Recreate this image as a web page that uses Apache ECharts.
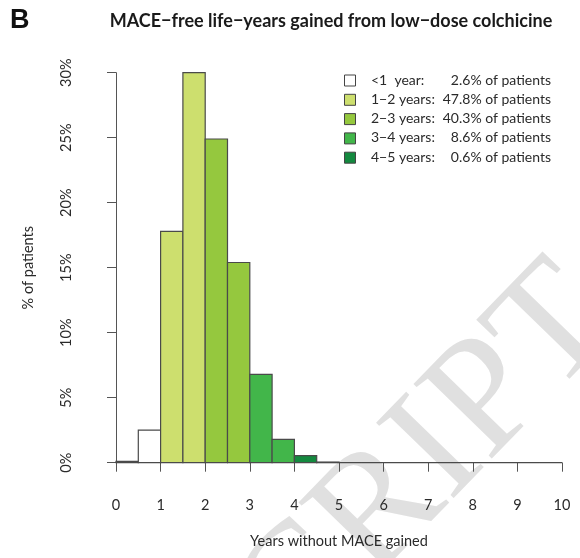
<!DOCTYPE html>
<html>
<head>
<meta charset="utf-8">
<script src="https://cdn.jsdelivr.net/npm/echarts@6/dist/echarts.min.js"></script>
<style>
  html, body { margin: 0; padding: 0; background: #fff; }
  #chart { width: 580px; height: 558px; }
</style>
</head>
<body>
<div id="chart"></div>
<script>
// Histogram bins (years gained, width 0.5) and share of patients in each bin (%)
const binStarts = [0, 0.5, 1, 1.5, 2, 2.5, 3, 3.5, 4, 4.5, 5, 5.5, 6, 6.5, 7, 7.5, 8, 8.5, 9, 9.5];
const binPct    = [0.1, 2.5, 17.8, 30.0, 24.9, 15.4, 6.8, 1.8, 0.55, 0.05, 0, 0, 0, 0, 0, 0, 0, 0, 0, 0];
const binWidth = 0.5;

// Colour groups by whole years
const groupLabels = ['<1  year:', '1\u22122 years:', '2\u22123 years:', '3\u22124 years:', '4\u22125 years:'];
const groupPct    = ['2.6%', '47.8%', '40.3%', '8.6%', '0.6%'];
const groupColors = ['#ffffff', '#cddf6e', '#95c83e', '#42b64a', '#14893f'];

const xTicks = [0, 1, 2, 3, 4, 5, 6, 7, 8, 9, 10];
const yTicks = [0, 5, 10, 15, 20, 25, 30];

const FONT = 'Lato, "Open Sans", sans-serif';
const TXT = '#2a2a2a';

function binColor(start, value) {
  if (value < 0.3) return '#ffffff';
  const g = Math.floor(start);
  return g < groupColors.length ? groupColors[g] : '#ffffff';
}

const chart = echarts.init(document.getElementById('chart'), null, { renderer: 'canvas' });

// Legend drawn as boxes + text
const legendGraphics = [];
const lx = 344, ly0 = 80, lstep = 19.3;
groupLabels.forEach((lab, i) => {
  const y = ly0 + i * lstep;
  legendGraphics.push({
    type: 'rect', left: lx, top: y - 5.5,
    shape: { width: 11, height: 11 },
    style: { fill: groupColors[i], stroke: '#444', lineWidth: 1 }
  });
  legendGraphics.push({
    type: 'text', x: 371, y: y,
    style: { text: lab, fill: TXT, font: '14px ' + FONT, textAlign: 'left', textVerticalAlign: 'middle' }
  });
  legendGraphics.push({
    type: 'text', x: 551, y: y,
    style: { text: groupPct[i] + ' of patients', fill: TXT, font: '14px ' + FONT, textAlign: 'right', textVerticalAlign: 'middle' }
  });
});

chart.setOption({
  backgroundColor: '#fff',
  animation: false,
  grid: { left: 116, right: 18, top: 72.7, bottom: 95.3, containLabel: false },
  xAxis: {
    type: 'value', min: 0, max: 10, interval: 1,
    offset: 16,
    axisLine: { show: true, lineStyle: { color: '#555', width: 1 } },
    axisTick: { show: true, length: 9, lineStyle: { color: '#555' } },
    axisLabel: { color: TXT, fontFamily: FONT, fontSize: 14.5, margin: 19,
      formatter: v => xTicks.includes(v) ? String(v) : '' },
    splitLine: { show: false },
    name: 'Years without MACE gained', nameLocation: 'middle', nameGap: 55,
    nameTextStyle: { color: TXT, fontFamily: FONT, fontSize: 14.5 }
  },
  yAxis: {
    type: 'value', min: 0, max: 30, interval: 5,
    offset: 18,
    axisLine: { show: true, lineStyle: { color: '#555', width: 1 } },
    axisTick: { show: true, length: 9, lineStyle: { color: '#555' } },
    axisLabel: { color: TXT, fontFamily: FONT, fontSize: 14.5, rotate: 90, margin: 24,
      formatter: v => yTicks.includes(v) ? v + '%' : '' },
    splitLine: { show: false },
    name: '% of patients', nameLocation: 'middle', nameGap: 62, nameRotate: 90,
    nameTextStyle: { color: TXT, fontFamily: FONT, fontSize: 14.5 }
  },
  series: [{
    type: 'custom',
    z: 5,
    data: binStarts.map((s, i) => [s, binPct[i]]),
    encode: { x: 0, y: 1 },
    renderItem: function (params, api) {
      const s = api.value(0), v = api.value(1);
      const p0 = api.coord([s, 0]);
      const p1 = api.coord([s + binWidth, v]);
      return {
        type: 'rect',
        shape: { x: p0[0], y: p1[1], width: p1[0] - p0[0], height: p0[1] - p1[1] },
        style: { fill: binColor(s, v), stroke: '#4a4a4a', lineWidth: 1.2 }
      };
    }
  }],
  graphic: [
    // faint diagonal watermark behind the plot
    { type: 'text', x: 650, y: 352, rotation: 0.8, z: -10,
      style: { text: 'MANUSCRIPT', fill: '#e0e0e0', font: '165px "Liberation Serif", serif',
        textAlign: 'right', textVerticalAlign: 'bottom' } },
    { type: 'text', x: 10, y: 21,
      style: { text: 'B', fill: '#111', font: 'bold 27px "Liberation Sans", Arial, sans-serif', textVerticalAlign: 'middle' } },
    { type: 'text', x: 331, y: 21,
      style: { text: 'MACE\u2212free life\u2212years gained from low\u2212dose colchicine', fill: '#1a1a1a',
        font: 'bold 18px ' + FONT, textAlign: 'center', textVerticalAlign: 'middle' } }
  ].concat(legendGraphics)
});
</script>
</body>
</html>
